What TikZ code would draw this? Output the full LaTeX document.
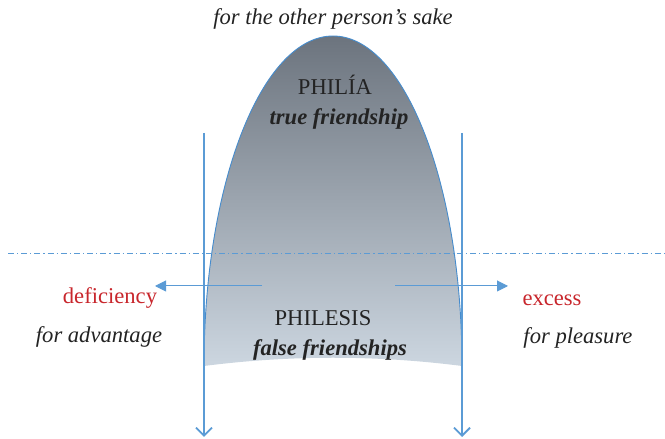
\documentclass[tikz,border=0pt]{standalone}
\usepackage{fontspec}
\setmainfont{Liberation Serif}
\usetikzlibrary{arrows.meta}
\definecolor{lineblue}{RGB}{91,155,213}
\definecolor{edgeblue}{RGB}{70,140,205}
\definecolor{redtext}{RGB}{200,38,44}
\definecolor{darktext}{RGB}{35,35,35}
\definecolor{topgray}{RGB}{108,116,126}
\definecolor{botgray}{RGB}{204,214,224}
\tikzset{
  lbl/.style={font=\fontsize{22.6}{25}\selectfont, text=darktext, inner sep=0pt, anchor=base},
  itl/.style={lbl, font=\fontsize{22.6}{25}\selectfont\itshape},
  bitl/.style={lbl, font=\fontsize{22.6}{25}\selectfont\bfseries\itshape},
  redl/.style={lbl, text=redtext},
  vert/.style={draw=lineblue, line width=1.8pt, -{Straight Barb[length=8pt,width=16pt,line width=1.8pt]}},
  horz/.style={draw=lineblue, line width=1pt, -{Triangle[length=11pt,width=11pt]}},
}
\begin{document}
\begin{tikzpicture}[x=1pt,y=1pt]
\useasboundingbox (0,0) rectangle (665,439);
% bell shape
\path[top color=topgray, bottom color=botgray]
  (204,73) arc[start angle=180, end angle=0, x radius=129pt, y radius=330pt]
  -- (462,73) .. controls (376,84) and (290,84) .. (204,73) -- cycle;
\draw[edgeblue, line width=0.9pt]
  (204,73) arc[start angle=180, end angle=0, x radius=129pt, y radius=330pt];
% dash-dot line
\coordinate (dl) at (8,186);
\coordinate (dr) at (665,186);
\draw[lineblue, line width=0.7pt, dash pattern=on 6pt off 3pt on 1.2pt off 3pt] (dl) -- (dr);
% vertical arrows
\coordinate (lt) at (204,306);
\coordinate (lb) at (204,2);
\coordinate (rt) at (462,306);
\coordinate (rb) at (462,2);
\draw[vert] (lt) -- (lb);
\draw[vert] (rt) -- (rb);
% horizontal arrows
\coordinate (ha1) at (262,153);
\coordinate (ha2) at (155,153);
\coordinate (hb1) at (395,153);
\coordinate (hb2) at (508,153);
\draw[horz] (ha1) -- (ha2);
\draw[horz] (hb1) -- (hb2);
% texts
\node[itl] (sake) at (333,414) {for the other person’s sake};
\node[lbl] (philia) at (335,344) {PHILÍA};
\node[bitl] (truef) at (339,314) {true friendship};
\node[lbl] (philesis) at (323,113) {PHILESIS};
\node[bitl] (falsef) at (330,83) {false friendships};
\node[redl] (defi) at (110,135) {deficiency};
\node[itl] (adv) at (99,96) {for advantage};
\node[redl] (exc) at (552,133) {excess};
\node[itl] (plea) at (578,95) {for pleasure};
\end{tikzpicture}
\end{document}
